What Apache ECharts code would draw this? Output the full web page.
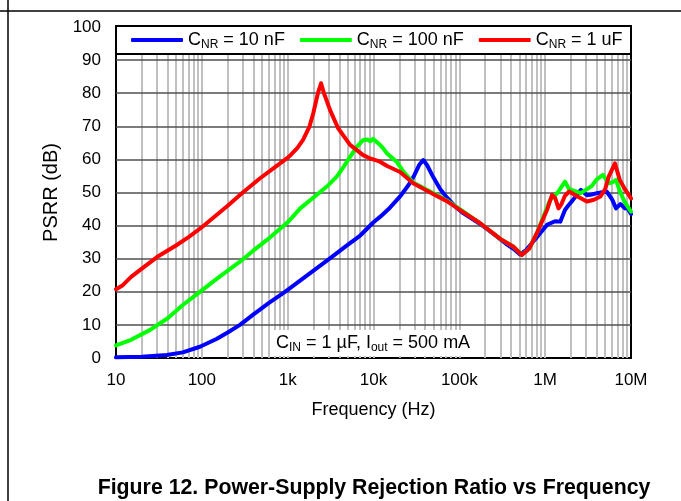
<!DOCTYPE html>
<html><head><meta charset="utf-8">
<script src="https://cdn.jsdelivr.net/npm/echarts@6/dist/echarts.min.js"></script>
<style>html,body{margin:0;padding:0;background:#fff}#c{width:681px;height:501px}</style>
</head><body><div id="c"></div>
<script>
// ---- data (frequency in Hz, PSRR in dB) ----
const seriesNames = ['CNR = 10 nF', 'CNR = 100 nF', 'CNR = 1 uF'];
const seriesColors = ['#0000ff', '#00ff00', '#ff0000'];

const psrr10nF = [
  [10,0.2],[20,0.4],[39,0.9],[60,1.7],[95,3.4],[150,5.8],[200,7.7],[278,10],[400,13.2],[600,16.6],
  [930,20],[1500,24],[2000,26.4],[3000,29.8],[5000,34.2],[7000,37],[10000,41],[12000,42.7],[15000,45],
  [20400,48.8],[26000,52.5],[30000,55.3],[34000,58.3],[38000,59.8],[42000,58.3],[50000,54.5],[60000,51],
  [71500,48.5],[90000,45.7],[112000,43.7],[175000,40.5],[250000,37.5],[350000,34.5],[427000,33],[510000,31.3],
  [600000,32.6],[800000,36.5],[1050000,40.2],[1300000,41.3],[1500000,41.2],[1600000,43],[1700000,44.7],
  [1850000,46],[2100000,47.7],[2300000,49],[2600000,50.8],[3060000,49.2],[3500000,49.4],[4000000,49.8],
  [5200000,50.3],[6000000,48],[6700000,45.2],[7500000,46.5],[8500000,45.2],[9000000,45.4],[10000000,43.5]
];
const psrr100nF = [
  [10,3.8],[15,5.5],[25,8.5],[40,12],[60,16],[95,20],[150,24],[278,29.1],[400,32.5],[570,35.6],
  [1000,41],[1400,45.2],[2000,48.5],[2860,51.8],[3730,54.8],[4500,57.8],[5340,60.8],[6500,64],[7600,65.9],
  [8500,66],[9200,65.5],[9900,66.2],[10500,65.6],[11000,65],[11900,64.4],[12900,63.4],[14400,61.8],
  [18600,59.3],[22000,56.5],[29000,53],[50000,49.8],[71500,47.6],[112000,44.2],[175000,40.7],[300000,36],
  [427000,33.6],[535000,31.2],[650000,33],[800000,37.7],[1000000,44],[1140000,47.7],[1400000,50],
  [1700000,53.3],[1900000,51],[2600000,49.8],[3500000,52],[4000000,54],[4700000,55.3],[5500000,52.8],
  [6000000,53],[6700000,53.8],[7500000,50],[8500000,47],[10000000,44.2]
];
const psrr1uF = [
  [10,20.8],[12,22],[15,24.5],[20,27],[30,30.5],[50,34],[70,36.5],[100,39.5],[200,46],[300,50],
  [477,54.3],[700,57.5],[977,60.3],[1100,61.5],[1300,63.5],[1510,65.9],[1800,70],[1990,74],[2250,80],
  [2450,83],[2650,80],[3120,74.9],[3870,69.4],[5340,64.4],[7570,61.3],[9300,60.2],[9900,60],[11900,59.3],
  [14400,58],[20400,56.2],[29000,52.8],[50000,49.5],[71500,47.4],[112000,44],[175000,40.7],[300000,36],
  [427000,33.6],[535000,31.1],[650000,33],[800000,37.7],[1050000,44.7],[1200000,49.2],[1300000,48.5],
  [1430000,45.2],[1550000,46.5],[1700000,49],[1900000,50.3],[2300000,49],[3060000,47.3],[3700000,47.8],
  [4400000,48.8],[5000000,51],[5500000,54.8],[6500000,58.8],[7400000,53.8],[8500000,51],[10000000,48.2]
];
const xTickLabels = {10:'10',100:'100',1000:'1k',10000:'10k',100000:'100k',1000000:'1M',10000000:'10M'};
const yTicks = [0,10,20,30,40,50,60,70,80,90,100];

// ---- gridline positions (axis features) ----
const vLines = [];
for (let d = 10; d < 1e7; d *= 10) {
  for (let k = 1; k <= 9; k++) { const v = k * d; if (v > 10) vLines.push({xAxis: v}); }
}
const hLines = yTicks.filter(v => v > 0 && v < 100).map(v => ({yAxis: v}));

const chart = echarts.init(document.getElementById('c'));
const FONT = 'Liberation Sans, Arial, sans-serif';
const dataSets = [psrr10nF, psrr100nF, psrr1uF];

const series = [
  {type:'line', data:[], z:1, silent:true,
   markLine:{silent:true, z:1, symbol:'none', label:{show:false}, animation:false,
     lineStyle:{color:'#c0c0c0', width:2, type:'solid'}, data:vLines}},
  {type:'line', data:[], z:1, silent:true,
   markLine:{silent:true, z:1.5, symbol:'none', label:{show:false}, animation:false,
     lineStyle:{color:'#505050', width:1.5, type:'solid'}, data:hLines}}
];
dataSets.forEach((d, i) => series.push({
  name: seriesNames[i], type:'line', data:d, showSymbol:false, symbol:'none', z:3 + i,
  lineStyle:{color:seriesColors[i], width:4, cap:'round', join:'round'},
  itemStyle:{color:seriesColors[i]}, animation:false
}));

chart.setOption({
  backgroundColor:'#fff',
  animation:false,
  textStyle:{fontFamily:FONT},
  grid:{left:116, right:50, top:27, bottom:143, show:true, borderColor:'#000', borderWidth:2, backgroundColor:'transparent', z:0},
  xAxis:{type:'log', logBase:10, min:10, max:1e7, splitNumber:6,
    name:'Frequency (Hz)', nameLocation:'middle', nameGap:43,
    nameTextStyle:{fontSize:18, color:'#000', fontFamily:FONT},
    axisLine:{show:true, lineStyle:{color:'#000', width:2}},
    axisTick:{show:false}, splitLine:{show:false}, minorTick:{show:false},
    axisLabel:{fontSize:17, color:'#000', margin:14, fontFamily:FONT,
      formatter: v => xTickLabels[Math.round(v)] || ''}},
  yAxis:{type:'value', min:0, max:100, interval:10,
    name:'PSRR (dB)', nameLocation:'middle', nameGap:54,
    nameTextStyle:{fontSize:20, color:'#000', fontFamily:FONT},
    axisLine:{show:true, lineStyle:{color:'#000', width:2}},
    axisTick:{show:false}, splitLine:{show:false},
    axisLabel:{fontSize:17, color:'#000', margin:15, fontFamily:FONT}},
  legend:{left:131, top:31, padding:0, itemWidth:52, itemHeight:4, itemGap:15, z:60,
    icon:'roundRect',
    data:seriesNames,
    formatter: n => '{m|C}{s|NR}{m|' + n.slice(3) + '}',
    textStyle:{color:'#000', fontFamily:FONT,
      rich:{m:{fontSize:18, lineHeight:22, fontFamily:FONT, color:'#000'},
            s:{fontSize:12, lineHeight:12, verticalAlign:'bottom', fontFamily:FONT, color:'#000'}}}},
  graphic:[
    {type:'line', shape:{x1:8, y1:0, x2:8, y2:501}, style:{stroke:'#000', lineWidth:1.5}, z:100},
    {type:'line', shape:{x1:0, y1:11, x2:681, y2:11}, style:{stroke:'#000', lineWidth:1.5}, z:100},
    {type:'rect', shape:{x:116, y:26, width:515, height:28}, style:{fill:'#fff', stroke:'#000', lineWidth:2}, z:50},
    {type:'text', x:272, y:330, z:40,
     style:{text:'{m|C}{s|IN}{m| = 1 µF, I}{s|out}{m| = 500 mA}', backgroundColor:'#fff', padding:[2,4,2,4],
       rich:{m:{fontSize:18, lineHeight:22, fontFamily:FONT, fill:'#000'},
             s:{fontSize:12, lineHeight:12, verticalAlign:'bottom', fontFamily:FONT, fill:'#000'}}}},
    {type:'text', x:374, y:488, z:40,
     style:{text:'Figure 12. Power-Supply Rejection Ratio vs Frequency', align:'center', verticalAlign:'middle',
       fontSize:21.3, fontWeight:'bold', fontFamily:FONT, fill:'#000'}}
  ],
  series: series
});
</script>
</body></html>
